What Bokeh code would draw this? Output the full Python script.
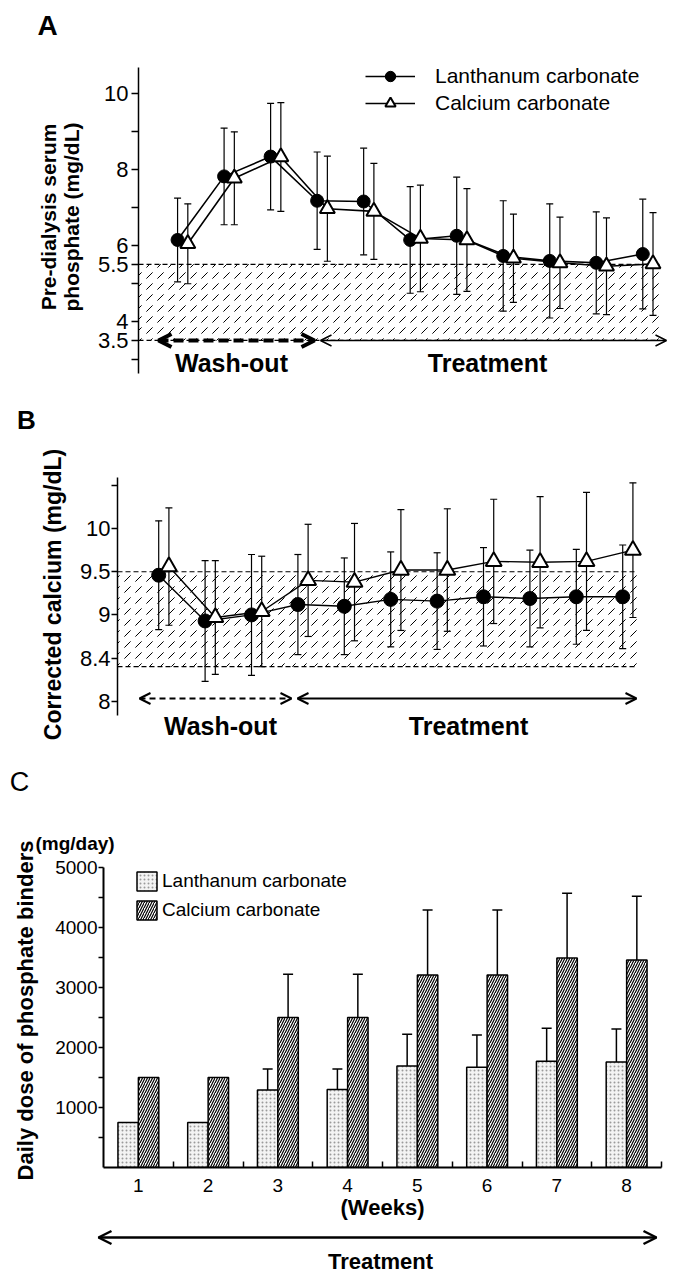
import math
from bokeh.plotting import figure
from bokeh.layouts import column
from bokeh.models import (ColumnDataSource, Whisker, TeeHead, Arrow, OpenHead, Label,
                          Legend, LegendItem, FixedTicker, Range1d)
from bokeh.transform import dodge
from bokeh.embed import file_html
from bokeh.resources import INLINE

FONT = "Liberation Sans"

# ---------------- data ----------------
series = ["Lanthanum carbonate", "Calcium carbonate"]
visits = [0, 1, 2, 3, 4, 5, 6, 7, 8, 9, 10]  # wash-out visits followed by treatment visits

# Panel A: pre-dialysis serum phosphate (mg/dL), mean and SD
phos_la = [6.14, 7.81, 8.33, 7.17, 7.15, 6.14, 6.25, 5.72, 5.59, 5.54, 5.77]
phos_la_sd = [1.10, 1.27, 1.40, 1.28, 1.40, 1.40, 1.54, 1.45, 1.50, 1.34, 1.44]
phos_ca = [6.04, 7.76, 8.32, 6.96, 6.89, 6.18, 6.14, 5.66, 5.54, 5.45, 5.51]
phos_ca_sd = [1.05, 1.22, 1.43, 1.38, 1.26, 1.40, 1.35, 1.16, 1.20, 1.27, 1.35]
phos_target = [3.5, 5.5]
phos_ticks = [3, 3.5, 4, 5, 5.5, 6, 7, 8, 9, 10]
phos_tick_labels = ["", "3.5", "4", "", "5.5", "6", "", "8", "", "10"]

# Panel B: corrected calcium (mg/dL), mean and SD
calc_la = [9.46, 8.93, 9.00, 9.12, 9.10, 9.18, 9.16, 9.21, 9.19, 9.21, 9.21]
calc_la_sd = [0.63, 0.70, 0.70, 0.58, 0.56, 0.55, 0.56, 0.57, 0.56, 0.55, 0.60]
calc_ca = [9.56, 8.97, 9.04, 9.40, 9.38, 9.52, 9.52, 9.62, 9.61, 9.62, 9.75]
calc_ca_sd = [0.68, 0.66, 0.64, 0.65, 0.68, 0.70, 0.71, 0.72, 0.76, 0.80, 0.78]
calc_target = [8.4, 9.5]
calc_ticks = [8, 8.5, 9, 9.5, 10, 10.5]
calc_tick_labels = ["8", "8.4", "9", "9.5", "10", ""]

# Panel C: daily dose of phosphate binders (mg/day), mean and SD
weeks = [1, 2, 3, 4, 5, 6, 7, 8]
dose_la = [750, 750, 1290, 1300, 1690, 1670, 1770, 1760]
dose_la_sd = [0, 0, 350, 340, 530, 540, 550, 550]
dose_ca = [1500, 1500, 2500, 2500, 3210, 3210, 3490, 3460]
dose_ca_sd = [0, 0, 720, 720, 1080, 1080, 1080, 1060]
dose_ticks = [1000, 2000, 3000, 4000, 5000]
dose_minor = [500, 1500, 2500, 3500, 4500]

# ---------------- helpers ----------------
W = 680
OFF = 0.11   # horizontal separation of the two series


def no_align(p):
    try:
        p.frame_align = False
    except Exception:
        pass


def make_panel(height, left, top, right, bottom, xr, yr, with_x=False):
    p = figure(width=W, height=height, x_range=xr, y_range=yr,
               output_backend="svg", toolbar_location=None,
               min_border_left=left, min_border_top=top,
               min_border_right=right, min_border_bottom=bottom,
               x_axis_type="linear" if with_x else None)
    p.outline_line_color = None
    p.grid.visible = False
    p.background_fill_color = "white"
    p.border_fill_color = "white"
    no_align(p)
    return p


def make_strip(y0, y1):
    """A text strip whose data coordinates are the page pixels (x right, y down)."""
    p = figure(width=W, height=y1 - y0, x_range=Range1d(0, W), y_range=Range1d(y1, y0),
               output_backend="svg", toolbar_location=None, min_border=0,
               x_axis_type=None, y_axis_type=None)
    p.outline_line_color = None
    p.grid.visible = False
    p.background_fill_color = "white"
    p.border_fill_color = "white"
    no_align(p)
    return p


def px_x(px, left, fw, xr):
    return xr[0] + (px - left) / fw * (xr[1] - xr[0])


def px_y(py, top, fh, yr):
    return yr[1] - (py - top) / fh * (yr[1] - yr[0])


def label(p, x, y, text, size, bold=True, angle=0.0):
    p.add_layout(Label(x=x, y=y, text=text, text_font=FONT,
                       text_font_size=f"{size}px",
                       text_font_style="bold" if bold else "normal",
                       text_align="center", text_baseline="middle",
                       angle=angle, text_color="black"))


def whiskers(p, x, y, sd, cap, lw, both=True):
    xs = [a for a, s in zip(x, sd) if s > 0]
    ys = [a for a, s in zip(y, sd) if s > 0]
    ss = [s for s in sd if s > 0]
    src = ColumnDataSource(dict(base=xs,
                                upper=[a + b for a, b in zip(ys, ss)],
                                lower=[a - b for a, b in zip(ys, ss)] if both else ys))
    w = Whisker(source=src, base="base", upper="upper", lower="lower",
                line_color="black", line_width=lw,
                upper_head=TeeHead(size=cap, line_width=lw, line_color="black"),
                lower_head=TeeHead(size=cap, line_width=lw, line_color="black") if both else None)
    p.add_layout(w)


def arrow(p, x0, x1, y, lw, head, dash="solid"):
    p.add_layout(Arrow(start=OpenHead(size=head, line_width=lw, line_color="black"),
                       end=OpenHead(size=head, line_width=lw, line_color="black"),
                       x_start=x0, x_end=x1, y_start=y, y_end=y,
                       line_width=lw, line_color="black", line_dash=dash))


def style_yaxis(p, ticks, labels, size, tick_out, standoff, lw):
    ax = p.yaxis[0]
    ax.ticker = FixedTicker(ticks=ticks)
    ax.major_label_overrides = {float(t): l for t, l in zip(ticks, labels)}
    ax.major_tick_in = 0
    ax.major_tick_out = tick_out
    ax.minor_tick_in = 0
    ax.minor_tick_out = 0
    ax.major_label_standoff = standoff
    ax.major_label_text_font = FONT
    ax.major_label_text_font_size = f"{size}px"
    ax.major_label_text_color = "black"
    ax.axis_line_width = lw
    ax.major_tick_line_width = lw
    ax.axis_line_color = "black"
    ax.major_tick_line_color = "black"
    ax.axis_label_text_font = FONT
    ax.axis_label_text_font_style = "bold"
    ax.axis_label_text_color = "black"
    return ax


def line_panel(p, la, la_sd, ca, ca_sd, target, band_right, mk, lw_line):
    xl = [v - OFF for v in visits]
    xc = [v + OFF for v in visits]
    # reference range band
    p.quad(left=[p.x_range.start], right=[band_right], bottom=[target[0]], top=[target[1]],
           fill_alpha=0, line_alpha=0, hatch_pattern="right_diagonal_dash",
           hatch_color="black", hatch_scale=11, hatch_weight=1.0)
    p.segment(x0=[p.x_range.start] * 2, x1=[band_right] * 2, y0=target, y1=target,
              line_color="black", line_width=1.2, line_dash="5 3")
    src_la = ColumnDataSource(dict(x=xl, y=la))
    src_ca = ColumnDataSource(dict(x=xc, y=ca))
    l1 = p.line("x", "y", source=src_la, line_color="black", line_width=lw_line)
    l2 = p.line("x", "y", source=src_ca, line_color="black", line_width=lw_line)
    whiskers(p, xl, la, la_sd, 7, 1.2)
    whiskers(p, xc, ca, ca_sd, 7, 1.2)
    m1 = p.scatter("x", "y", source=src_la, marker="circle", size=mk,
                   fill_color="black", line_color="black")
    m2 = p.scatter("x", "y", source=src_ca, marker="triangle", size=mk + 2,
                   fill_color="white", line_color="black", line_width=2)
    return l1, l2, m1, m2


# ================= Panel A =================
sa = make_strip(0, 60)
label(sa, 47, 25, "A", 28)

A_top, A_bot = 60, 385
A_L, A_FB, A_R = 138, 373, 670
A_x = (-0.950, 10.486)
A_axis = (2.632, 10.670)          # drawn extent of the y axis
A_y = (2.632, 10.854)             # frame extent (room for the legend)
pa = make_panel(A_bot - A_top, A_L, 0, W - A_R, A_bot - A_FB, A_x, A_y)
XA = lambda px: px_x(px, A_L, A_R - A_L, A_x)
YA = lambda py: px_y(py, A_top, A_FB - A_top, A_y)
axa = style_yaxis(pa, phos_ticks, phos_tick_labels, 22, 7, 3, 1.5)
axa.bounds = A_axis
axa.axis_label = "Pre-dialysis serum\nphosphate (mg/dL)"
axa.axis_label_text_font_size = "21px"
axa.axis_label_text_line_height = 1.0
axa.axis_label_standoff = 12
l1, l2, m1, m2 = line_panel(pa, phos_la, phos_la_sd, phos_ca, phos_ca_sd,
                            phos_target, XA(659), 13, 1.6)
arrow(pa, XA(158), XA(314), phos_target[0], 4, 13, "10 5")
arrow(pa, XA(320), XA(666), phos_target[0], 1.5, 11)
label(pa, XA(231), YA(362), "Wash-out", 25)
label(pa, XA(487), YA(362), "Treatment", 25)
leg_a = Legend(items=[LegendItem(label=series[0], renderers=[l1, m1]),
                      LegendItem(label=series[1], renderers=[l2, m2])],
               location=(227, 257), glyph_width=50, glyph_height=26, label_standoff=20,
               padding=0, spacing=1, margin=0, border_line_alpha=0,
               background_fill_alpha=0, label_text_font=FONT,
               label_text_font_size="21px", label_text_color="black")
pa.add_layout(leg_a)

# ================= Panel B =================
sb = make_strip(385, 440)
label(sb, 26, 419, "B", 26)

B_top, B_bot = 440, 748
B_L, B_R = 117, 670
B_x = (-0.998, 10.920)
B_axis = (7.834, 10.592)          # drawn extent of the y axis
B_y = (7.452, 11.021)             # frame extent (room for the long axis title)
pb = make_panel(B_bot - B_top, B_L, 0, W - B_R, 0, B_x, B_y)
XB = lambda px: px_x(px, B_L, B_R - B_L, B_x)
YB = lambda py: px_y(py, B_top, B_bot - B_top, B_y)
axb = style_yaxis(pb, calc_ticks, calc_tick_labels, 22, 6, 1, 1.5)
axb.bounds = B_axis
axb.axis_label = "Corrected calcium (mg/dL)"
axb.axis_label_text_font_size = "23px"
axb.axis_label_standoff = 11
line_panel(pb, calc_la, calc_la_sd, calc_ca, calc_ca_sd, calc_target, XB(637), 14, 1.4)
arrow(pb, XB(139), XB(291), YB(698), 2, 11, "6 4")
arrow(pb, XB(297), XB(636), YB(698), 2, 11)
label(pb, XB(220), YB(725), "Wash-out", 25)
label(pb, XB(468), YB(725), "Treatment", 25)

sb2 = make_strip(748, 828)
label(sb2, 19, 781, "C", 27, bold=False)

# ================= Panel C =================
C_top, C_bot = 828, 1227
C_L, C_FT, C_FB, C_R = 103, 853, 1167, 661
C_x = (0.5, 8.5)
C_axis = (0, 5000)
C_y = (0, 5000 * (C_FB - C_FT) / 300.0)
pc = make_panel(C_bot - C_top, C_L, C_FT - C_top, W - C_R, C_bot - C_FB, C_x, C_y, with_x=True)
pc.title.text = "(mg/day)"
pc.title.align = "left"
pc.title.offset = -68
pc.title.standoff = 0
pc.title.text_font = FONT
pc.title.text_font_size = "19px"
pc.title.text_font_style = "bold"
pc.title.text_color = "black"

BW = 0.293
src_c = ColumnDataSource(dict(weeks=weeks, la=dose_la, ca=dose_ca))
b1 = pc.vbar(x=dodge("weeks", -BW / 2, range=pc.x_range), top="la", width=BW, source=src_c,
             fill_color="#f3f3f3", line_color="black", line_width=1.5,
             hatch_pattern="dot", hatch_scale=4, hatch_color="#9a9a9a", hatch_weight=0.8)
b2 = pc.vbar(x=dodge("weeks", BW / 2, range=pc.x_range), top="ca", width=BW, source=src_c,
             fill_color="white", line_color="black", line_width=1.5,
             hatch_pattern="right_diagonal_line", hatch_scale=5, hatch_color="black",
             hatch_weight=1.2)
whiskers(pc, [w - BW / 2 for w in weeks], dose_la, dose_la_sd, 10, 1.5, both=False)
whiskers(pc, [w + BW / 2 for w in weeks], dose_ca, dose_ca_sd, 10, 1.5, both=False)

ya = pc.yaxis[0]
ya.ticker = FixedTicker(ticks=dose_ticks, minor_ticks=dose_minor)
ya.bounds = C_axis
ya.major_tick_in = 0
ya.major_tick_out = 5
ya.minor_tick_in = 0
ya.minor_tick_out = 5
ya.major_label_standoff = 1
ya.axis_label = "Daily dose of phosphate binders"
ya.axis_label_standoff = 14
xa = pc.xaxis[0]
xa.ticker = FixedTicker(ticks=weeks, minor_ticks=[w + 0.5 for w in weeks])
xa.major_tick_in = 0
xa.major_tick_out = 0
xa.minor_tick_in = 6
xa.minor_tick_out = 0
xa.major_label_standoff = 11
xa.axis_label = "(Weeks)"
xa.axis_label_standoff = 0
for ax in (ya, xa):
    ax.axis_line_width = 2
    ax.major_tick_line_width = 1.5
    ax.minor_tick_line_width = 1.5
    ax.axis_line_color = "black"
    ax.major_tick_line_color = "black"
    ax.minor_tick_line_color = "black"
    ax.major_label_text_font = FONT
    ax.major_label_text_font_size = "19px"
    ax.major_label_text_color = "black"
    ax.axis_label_text_font = FONT
    ax.axis_label_text_font_style = "bold"
    ax.axis_label_text_font_size = "22px"
    ax.axis_label_text_color = "black"

leg_c = Legend(items=[LegendItem(label=series[0], renderers=[b1]),
                      LegendItem(label=series[1], renderers=[b2])],
               location=(31, 245), glyph_width=25, glyph_height=24, label_standoff=3,
               padding=0, spacing=5, margin=0, border_line_alpha=0,
               background_fill_alpha=0, label_text_font=FONT,
               label_text_font_size="19px", label_text_color="black")
pc.add_layout(leg_c)

sc = make_strip(1227, 1276)
arrow(sc, 98, 656, 1237, 2.5, 13)
label(sc, 380, 1261, "Treatment", 22)

layout = column(sa, pa, sb, pb, sb2, pc, sc, spacing=0)
open("out.html", "w").write(file_html(layout, INLINE))
